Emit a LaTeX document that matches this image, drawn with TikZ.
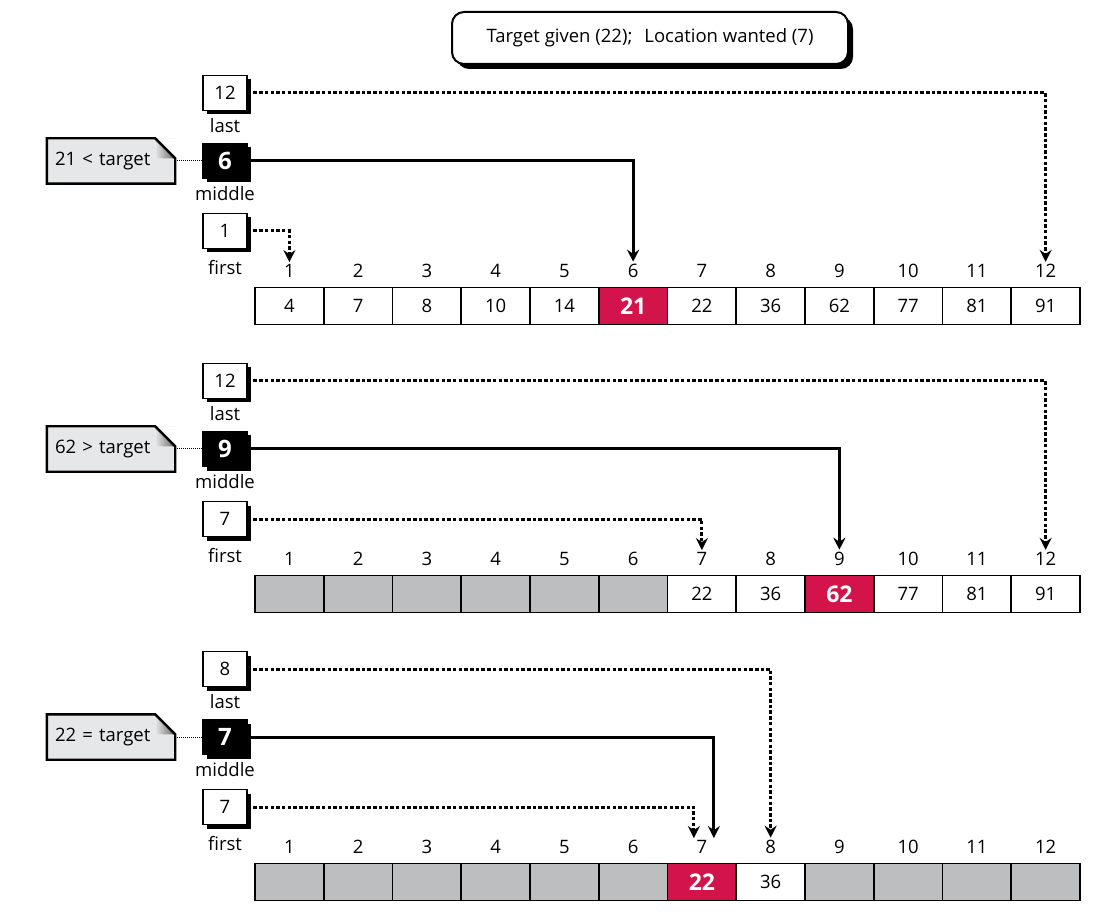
\documentclass[tikz,border=0pt]{standalone}
\usepackage{fontspec}
\setmainfont{Open Sans}
\usetikzlibrary{arrows.meta,positioning,shadows}
\definecolor{hitred}{HTML}{D2144A}
\definecolor{outgray}{HTML}{BCBEC0}
\definecolor{notegray}{HTML}{E6E7E8}
% folded corner of a note node
\newcommand{\dogear}[1]{%
  \fill[white] ([xshift=-20pt]#1.north east) -- (#1.north east) -- ([yshift=-20pt]#1.north east) -- cycle;
  \shade[left color=notegray,right color=black!60] ([xshift=-20pt]#1.north east) -- ([xshift=-20pt,yshift=-20pt]#1.north east) -- ([yshift=-20pt]#1.north east) -- cycle;
  \draw[line width=2.4pt,line join=miter] (#1.north west) -- ([xshift=-20pt]#1.north east) -- ([yshift=-20pt]#1.north east) -- (#1.south east) -- (#1.south west) -- cycle;
}
\begin{document}
\begin{tikzpicture}[x=1pt,y=-1pt,every node/.style={font=\fontsize{18.5}{21}\selectfont}]
    \tikzstyle{cell}=[draw,line width=1.6pt,fill=white,minimum width=68.75pt,minimum height=37pt,inner sep=0pt]
    \tikzstyle{hit}=[cell,fill=hitred,text=white,font=\bfseries\fontsize{23}{25}\selectfont]
    \tikzstyle{gone}=[cell,fill=outgray]
    \tikzstyle{idx}=[inner sep=2pt]
    \tikzstyle{ptr}=[draw,line width=1.5pt,fill=white,minimum width=44pt,minimum height=35pt,inner sep=0pt,drop shadow={shadow xshift=4pt,shadow yshift=-4pt,opacity=1,fill=black}]
    \tikzstyle{midbox}=[ptr,fill=black,text=white,font=\bfseries\fontsize{24}{26}\selectfont]
    \tikzstyle{tag}=[inner sep=2pt]
    \tikzstyle{note}=[fill=notegray,minimum width=128pt,minimum height=45pt,text width=112pt,inner xsep=8pt,align=left]
    \tikzstyle{link}=[line width=3pt,line join=miter,-{Stealth[length=12pt,width=12pt,inset=4pt]}]
    \tikzstyle{dotline}=[dash pattern=on 3.5pt off 2.2pt]
    \useasboundingbox (0,0) rectangle (1112,917);
    \node[draw,line width=2pt,rounded corners=12pt,fill=white,minimum width=396pt,minimum height=52pt,drop shadow={shadow xshift=5pt,shadow yshift=-5pt,opacity=1,fill=black}] (goal) at (650,38) {Target given (22);\hspace{12pt}Location wanted (7)};
    \foreach \r/\lo/\md/\hi/\fs/\ms/\why in {1/1/6/12/0/0/21 < target, 2/7/9/12/0/0/62 > target, 3/7/7/8/-8/12/22 = target}{
        \pgfmathsetmacro\yo{(\r-1)*288}
        % the array, greyed outside first..last
        \foreach \v [count=\i] in {4,7,8,10,14,21,22,36,62,77,81,91}{
            \ifnum\i<\lo \def\cellsty{gone}\def\celltxt{}\else
            \ifnum\i>\hi \def\cellsty{gone}\def\celltxt{}\else
            \ifnum\i=\md \def\cellsty{hit}\def\celltxt{\v}\else
            \def\cellsty{cell}\def\celltxt{\v}\fi\fi\fi
            \node[\cellsty] (c\r-\i) at ({255+68.75*(\i-0.5)},{306+\yo}) {\celltxt};
            \node[idx,above=7pt of c\r-\i] (i\r-\i) {\i};
        }
        % pointers
        \node[ptr] (last\r) at (225,{93+\yo}) {\hi};
        \node[midbox] (mid\r) at (225,{161+\yo}) {\md};
        \node[ptr] (first\r) at (225,{231+\yo}) {\lo};
        \node[tag,below=5pt of last\r] (lastname\r) {last};
        \node[tag,below=5pt of mid\r] (midname\r) {middle};
        \node[tag,below=9pt of first\r] (firstname\r) {first};
        \node[note] (note\r) at (111,{161+\yo}) {\why};
        \dogear{note\r}
        \draw[densely dotted,line width=1pt] (note\r) -- (mid\r);
        \draw[link,dotline] (last\r) -| (i\r-\hi);
        \draw[link] (mid\r) -| ([xshift=\ms pt]i\r-\md.north);
        \draw[link,dotline] (first\r) -| ([xshift=\fs pt]i\r-\lo.north);
    }
\end{tikzpicture}
\end{document}
